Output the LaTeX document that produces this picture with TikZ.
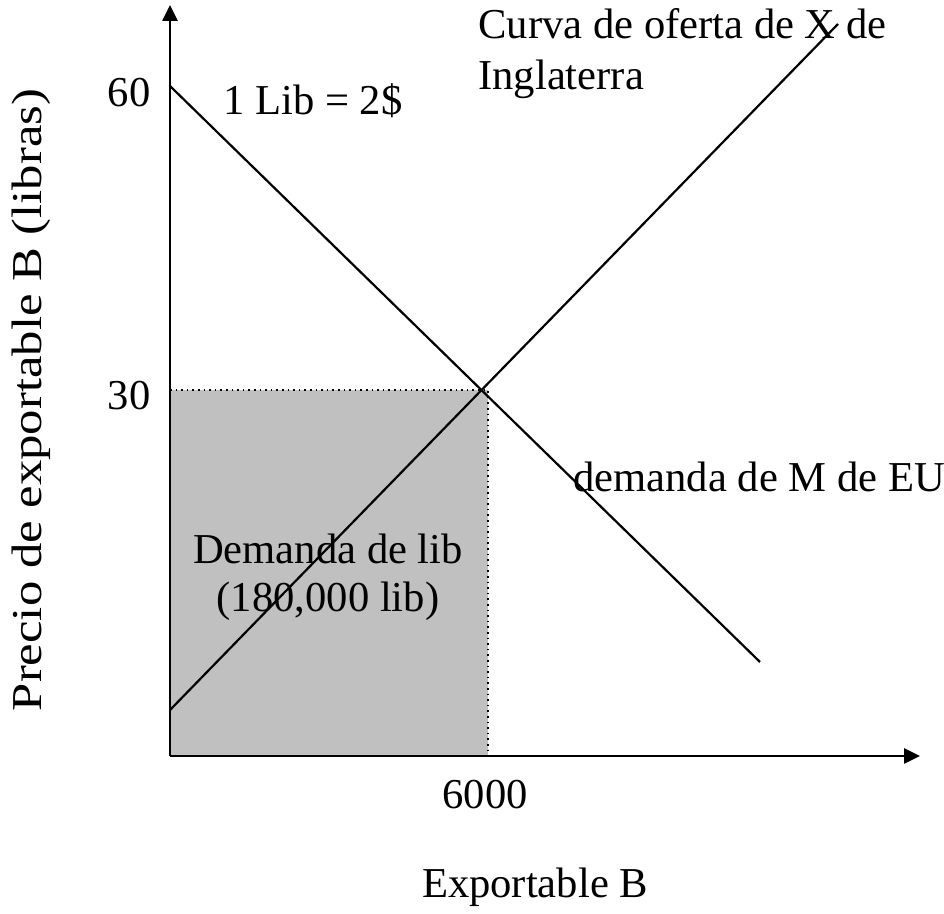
\documentclass[tikz,border=0pt]{standalone}
\usepackage{fontspec}
\setmainfont{Liberation Serif}
\usetikzlibrary{arrows.meta}
\definecolor{boxgray}{RGB}{192, 192, 192}

\begin{document}
\begin{tikzpicture}[x=0.5pt, y=-0.5pt, font=\fontsize{21.3}{24}\selectfont,
  axis/.style={line width=1.3pt, -{Triangle[length=8pt, width=7.5pt]}},
  curve/.style={line width=1.1pt},
  lbl/.style={inner sep=0pt}]
\useasboundingbox (0,0) rectangle (944,914);

% Points
\coordinate (origin) at (170,756);
\coordinate (ytop) at (170,5);
\coordinate (xend) at (920,756);
\coordinate (eq) at (488,390);
\coordinate (dstart) at (170,86);
\coordinate (dend) at (760,662);
\coordinate (sstart) at (170,710);
\coordinate (send) at (838,24);

% Shaded area
\fill[boxgray] (origin) rectangle (eq);
\draw[dotted, line width=0.8pt] (170,390) -- (eq) -- (488,756);

% Axes
\draw[axis] (origin) -- (ytop);
\draw[axis] (origin) -- (xend);

% Curves
\draw[curve] (dstart) -- (dend);
\draw[curve] (sstart) -- (send);

% Tick labels
\node[lbl, anchor=base] (p60) at (129,107) {60};
\node[lbl, anchor=base] (p30) at (129,410) {30};
\node[lbl, anchor=base] (q6000) at (485,809) {6000};

% Axis titles
\node[lbl, rotate=90] (ytitle) at (31,400) {\scalebox{1.19}[1]{Precio de exportable B (libras)}};
\node[lbl, anchor=base] (xtitle) at (535,898) {Exportable B};

% Curve labels
\node[lbl, anchor=base west] (rate) at (223,115) {1 Lib = 2\$};
\node[lbl, anchor=base west] (supply) at (478,39) {Curva de oferta de X de};
\node[lbl, anchor=base west] (supply2) at (478,90) {Inglaterra};
\node[lbl, anchor=base west] (demand) at (573,492) {demanda de M de EU};
\node[lbl, anchor=base] (area) at (328,564) {Demanda de lib};
\node[lbl, anchor=base] (area2) at (328,612) {(180,000 lib)};
\end{tikzpicture}
\end{document}
